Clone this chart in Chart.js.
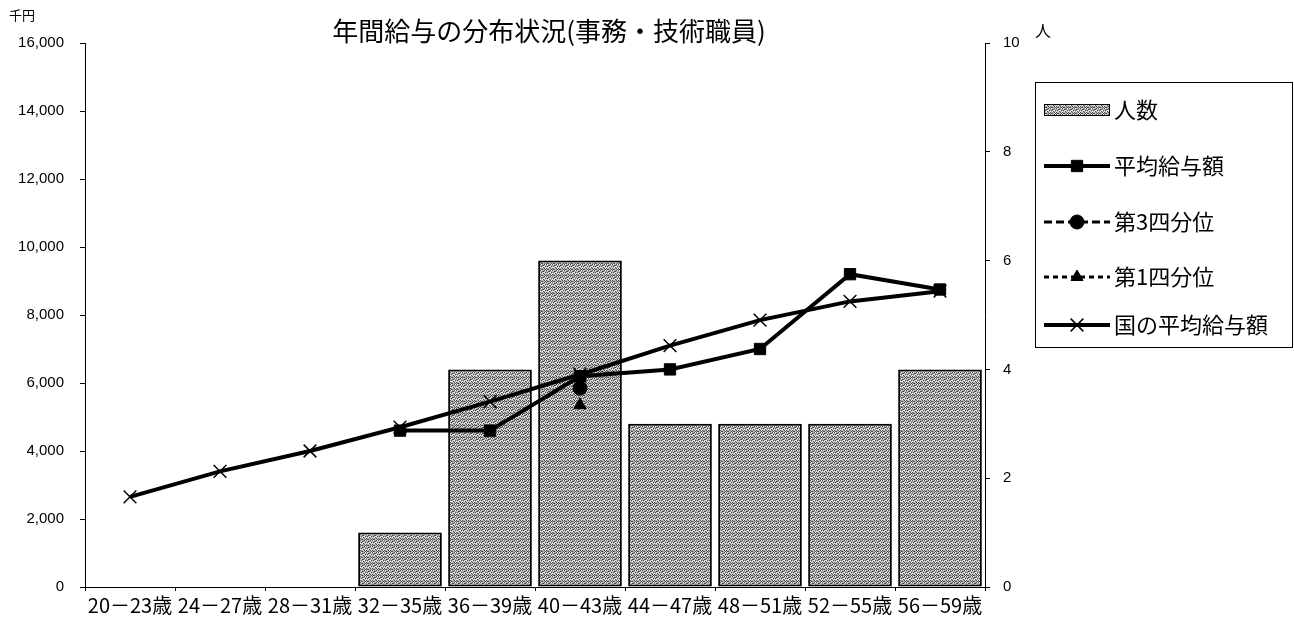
<!DOCTYPE html>
<html>
<head>
<meta charset="utf-8">
<script src="https://cdn.jsdelivr.net/npm/chart.js@4"></script>
<style>
  html, body { margin: 0; padding: 0; background: #fff; }
  #wrap { width: 1294px; height: 621px; }
</style>
</head>
<body>
<div id="wrap"><canvas id="myChart" width="1294" height="621"></canvas></div>
<script>
// data
const categories = ['20－23歳', '24－27歳', '28－31歳', '32－35歳', '36－39歳', '40－43歳', '44－47歳', '48－51歳', '52－55歳', '56－59歳'];
const headcount = [0, 0, 0, 1, 4, 6, 3, 3, 3, 4];
const avgPay = [null, null, null, 4600, 4600, 6200, 6400, 7000, 9200, 8750];
const q3Pay = [null, null, null, null, null, 5850, null, null, null, null];
const q1Pay = [null, null, null, null, null, 5350, null, null, null, null];
const nationalPay = [2650, 3400, 4000, 4700, 5450, 6250, 7100, 7850, 8400, 8700];
const payTicks = [0, 2000, 4000, 6000, 8000, 10000, 12000, 14000, 16000];
const peopleTicks = [0, 2, 4, 6, 8, 10];

const FONT = '"Liberation Sans", "Noto Sans CJK JP", sans-serif';
const JFONT = '"Noto Sans CJK JP", sans-serif';

// stippled grey fill like the printed chart
function makePattern() {
  const c = document.createElement('canvas');
  c.width = 6; c.height = 6;
  const g = c.getContext('2d');
  g.fillStyle = '#b4b4b4';
  g.fillRect(0, 0, 6, 6);
  g.fillStyle = '#4a4a4a';
  [[0,0],[2,1],[4,0],[1,2],[3,3],[5,2],[0,4],[2,5],[4,4],[5,5],[1,5],[3,1]].forEach(p => g.fillRect(p[0], p[1], 1, 1));
  g.fillStyle = '#f4f4f4';
  [[1,0],[3,2],[5,4],[0,3],[2,3],[4,2],[5,0]].forEach(p => g.fillRect(p[0], p[1], 1, 1));
  return g.createPattern(c, 'repeat');
}
const barFill = makePattern();

// texts and legend box
const extras = {
  id: 'extras',
  afterDraw(chart) {
    const ctx = chart.ctx;
    ctx.save();
    ctx.fillStyle = '#000';
    ctx.textBaseline = 'middle';
    ctx.font = '400 26px ' + JFONT;
    ctx.textAlign = 'center';
    ctx.fillText('年間給与の分布状況(事務・技術職員)', 549, 31);
    ctx.font = '13px ' + JFONT;
    ctx.textAlign = 'left';
    ctx.fillText('千円', 9, 15);
    ctx.font = '16px ' + JFONT;
    ctx.fillText('人', 1035, 31);

    // legend
    const bx = 1035, by = 82, bw = 257, bh = 265;
    ctx.lineWidth = 1;
    ctx.strokeStyle = '#000';
    ctx.strokeRect(bx + 0.5, by + 0.5, bw, bh);
    const rows = [110, 166, 222, 277, 325];
    ctx.font = '22px ' + JFONT;
    chart.data.datasets.forEach((ds, i) => {
      const y = rows[i];
      const x0 = 1044, x1 = 1110;
      if (ds.type === 'bar') {
        ctx.fillStyle = barFill;
        ctx.fillRect(x0, y - 6, x1 - x0, 12);
        ctx.strokeRect(x0 + 0.5, y - 6 + 0.5, x1 - x0 - 1, 11);
      } else {
        ctx.beginPath();
        ctx.setLineDash(ds.borderDash || []);
        ctx.lineWidth = ds.borderWidth;
        ctx.strokeStyle = ds.borderColor;
        ctx.moveTo(x0, y);
        ctx.lineTo(x1, y);
        ctx.stroke();
        ctx.setLineDash([]);
        ctx.lineWidth = ds.pointBorderWidth;
        ctx.strokeStyle = ds.pointBorderColor;
        ctx.fillStyle = ds.pointBackgroundColor;
        Chart.helpers.drawPoint(ctx, {pointStyle: ds.pointStyle, radius: ds.pointRadius, rotation: 0, borderWidth: ds.pointBorderWidth}, (x0 + x1) / 2, y);
      }
      ctx.fillStyle = '#000';
      ctx.textAlign = 'left';
      ctx.fillText(ds.label, 1114, y);
    });
    ctx.restore();
  }
};

const ctx = document.getElementById('myChart');

new Chart(ctx, {
  data: {
    labels: categories,
    datasets: [
      {
        type: 'bar',
        label: '人数',
        data: headcount,
        yAxisID: 'y1',
        backgroundColor: barFill,
        borderColor: '#000',
        borderWidth: 2,
        borderSkipped: false,
        categoryPercentage: 1,
        barPercentage: 0.93,
        order: 10
      },
      {
        type: 'line',
        label: '平均給与額',
        data: avgPay,
        yAxisID: 'y',
        borderColor: '#000',
        borderWidth: 4,
        pointStyle: 'rect',
        pointRadius: 8,
        pointBackgroundColor: '#000',
        pointBorderColor: '#000',
        pointBorderWidth: 1,
        spanGaps: false,
        order: 1
      },
      {
        type: 'line',
        label: '第3四分位',
        data: q3Pay,
        yAxisID: 'y',
        borderColor: '#000',
        borderWidth: 3,
        borderDash: [8, 4],
        pointStyle: 'circle',
        pointRadius: 7,
        pointBackgroundColor: '#000',
        pointBorderColor: '#000',
        pointBorderWidth: 1,
        order: 2
      },
      {
        type: 'line',
        label: '第1四分位',
        data: q1Pay,
        yAxisID: 'y',
        borderColor: '#000',
        borderWidth: 3,
        borderDash: [5, 4],
        pointStyle: 'triangle',
        pointRadius: 7,
        pointBackgroundColor: '#000',
        pointBorderColor: '#000',
        pointBorderWidth: 1,
        order: 3
      },
      {
        type: 'line',
        label: '国の平均給与額',
        data: nationalPay,
        yAxisID: 'y',
        borderColor: '#000',
        borderWidth: 4,
        pointStyle: 'crossRot',
        pointRadius: 9,
        pointBackgroundColor: '#000',
        pointBorderColor: '#000',
        pointBorderWidth: 1.5,
        order: 0
      }
    ]
  },
  options: {
    responsive: false,
    animation: false,
    layout: { padding: { top: 43, right: 269, left: 0, bottom: 0 } },
    plugins: {
      legend: { display: false },
      tooltip: { enabled: false },
      title: { display: false }
    },
    scales: {
      x: {
        offset: true,
        grid: { offset: true, drawOnChartArea: false, color: '#000', tickLength: 4 },
        border: { color: '#000', width: 1 },
        ticks: { color: '#000', font: { family: JFONT, size: 20 }, maxRotation: 0, autoSkip: false, padding: 2 },
        afterFit: s => { s.height = 34; }
      },
      y: {
        position: 'left',
        min: 0, max: 16000,
        afterBuildTicks: s => { s.ticks = payTicks.map(v => ({ value: v })); },
        grid: { drawOnChartArea: false, color: '#000', tickLength: 5 },
        border: { color: '#000', width: 1 },
        ticks: {
          color: '#000',
          font: { family: FONT, size: 15 },
          padding: 16,
          callback: v => v.toLocaleString('en-US')
        },
        afterFit: s => { s.width = 85; }
      },
      y1: {
        position: 'right',
        min: 0, max: 10,
        afterBuildTicks: s => { s.ticks = peopleTicks.map(v => ({ value: v })); },
        grid: { drawOnChartArea: false, color: '#000', tickLength: 5 },
        border: { color: '#000', width: 1 },
        ticks: { color: '#000', font: { family: FONT, size: 15 }, padding: 13 },
        afterFit: s => { s.width = 40; }
      }
    }
  },
  plugins: [extras]
});
</script>
</body>
</html>
